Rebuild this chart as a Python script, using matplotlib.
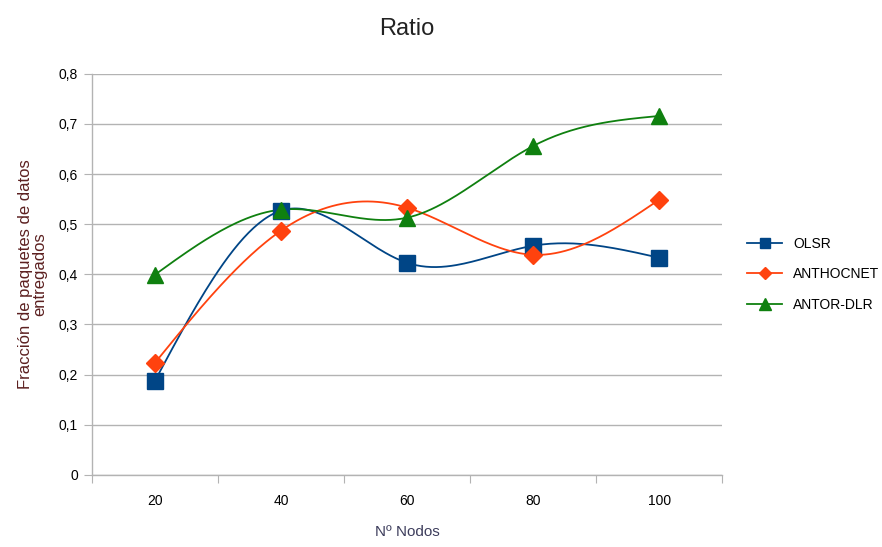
import numpy as np
import matplotlib
matplotlib.use("Agg")
import matplotlib.pyplot as plt

categories = ["20", "40", "60", "80", "100"]
olsr = [0.187, 0.527, 0.423, 0.457, 0.433]
anthocnet = [0.223, 0.487, 0.533, 0.439, 0.549]
antor_dlr = [0.399, 0.529, 0.513, 0.656, 0.716]

series = [
    ("OLSR", olsr, "#004586", "s", 11),
    ("ANTHOCNET", anthocnet, "#ff420e", "D", 9),
    ("ANTOR-DLR", antor_dlr, "#0f800f", "^", 12),
]


def natural_spline(x, y, n=200):
    # natural cubic spline, like the "smooth line" option of office charts
    x = np.asarray(x, float)
    y = np.asarray(y, float)
    k = len(x)
    h = np.diff(x)
    A = np.zeros((k, k))
    b = np.zeros(k)
    A[0, 0] = A[-1, -1] = 1
    for i in range(1, k - 1):
        A[i, i - 1] = h[i - 1]
        A[i, i] = 2 * (h[i - 1] + h[i])
        A[i, i + 1] = h[i]
        b[i] = 6 * ((y[i + 1] - y[i]) / h[i] - (y[i] - y[i - 1]) / h[i - 1])
    m = np.linalg.solve(A, b)
    xs = np.linspace(x[0], x[-1], n)
    idx = np.clip(np.searchsorted(x, xs) - 1, 0, k - 2)
    x0, x1 = x[idx], x[idx + 1]
    hh = x1 - x0
    t0 = x1 - xs
    t1 = xs - x0
    ys = (m[idx] * t0 ** 3 + m[idx + 1] * t1 ** 3) / (6 * hh) \
        + (y[idx] / hh - m[idx] * hh / 6) * t0 \
        + (y[idx + 1] / hh - m[idx + 1] * hh / 6) * t1
    return xs, ys


plt.rcParams["font.family"] = ["Liberation Sans", "DejaVu Sans"]

fig = plt.figure(figsize=(8.82, 5.47), dpi=100)
ax = fig.add_axes([0.104, 0.132, 0.715, 0.733])

xpos = np.arange(len(categories))
for name, vals, color, marker, ms in series:
    xs, ys = natural_spline(xpos, vals)
    ax.plot(xs, ys, color=color, linewidth=1.3, zorder=3)
    ax.plot(xpos, vals, linestyle="none", marker=marker, markersize=ms,
            color=color, zorder=4)
    ax.plot([], [], color=color, marker=marker, markersize=ms * 0.7,
            linewidth=1.3, label=name)

ax.set_xlim(-0.5, len(categories) - 0.5)
ax.set_ylim(0, 0.8)
ax.set_yticks(np.arange(0, 0.81, 0.1))
ax.set_yticklabels(["0"] + [f"{v:.1f}".replace(".", ",") for v in np.arange(0.1, 0.81, 0.1)])
ax.set_xticks(np.arange(-0.5, len(categories), 1.0))
ax.set_xticklabels([])
ax.set_xticks(xpos, minor=True)
ax.set_xticklabels(categories, minor=True)
ax.tick_params(axis="x", which="minor", length=0, pad=14, labelsize=10)
ax.tick_params(axis="x", which="major", length=6, color="#b3b3b3")
ax.tick_params(axis="y", length=6, color="#b3b3b3", labelsize=10, pad=4)

ax.grid(axis="y", color="#b3b3b3", linewidth=1.0)
ax.set_axisbelow(True)
for s in ["top", "right"]:
    ax.spines[s].set_visible(False)
for s in ["left", "bottom"]:
    ax.spines[s].set_color("#b3b3b3")
    ax.spines[s].set_linewidth(1.0)

ax.set_title("Ratio", fontsize=17, pad=28, color="#222222")
ax.set_xlabel("Nº Nodos", fontsize=11, color="#3d3d5c", labelpad=12)
ax.set_ylabel("Fracción de paquetes de datos\nentregados", fontsize=12,
              color="#5c2020", labelpad=8, linespacing=0.95,
              multialignment="center")

ax.legend(loc="center left", bbox_to_anchor=(1.02, 0.5), frameon=False,
          fontsize=10, handlelength=2.5, labelspacing=1.2)

fig.savefig("out.png", dpi=100)
